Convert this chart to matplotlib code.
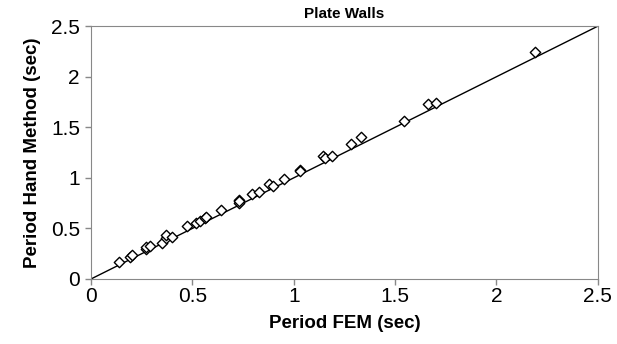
import matplotlib
matplotlib.use("Agg")
import matplotlib.pyplot as plt

plt.rcParams["font.family"] = ["Liberation Sans", "DejaVu Sans"]

# Period FEM vs Period Hand Method (sec)
fem = [0.14, 0.19, 0.20, 0.27, 0.27, 0.29, 0.35, 0.37, 0.37, 0.40,
       0.475, 0.52, 0.54, 0.56, 0.565, 0.64, 0.73, 0.73, 0.73, 0.795,
       0.83, 0.88, 0.90, 0.95, 1.03, 1.03, 1.146, 1.156, 1.19, 1.28,
       1.33, 1.545, 1.66, 1.70, 2.19]
hand = [0.164, 0.22, 0.24, 0.30, 0.32, 0.33, 0.36, 0.41, 0.43, 0.42,
        0.52, 0.55, 0.57, 0.60, 0.61, 0.68, 0.78, 0.75, 0.77, 0.84,
        0.86, 0.94, 0.92, 0.985, 1.08, 1.07, 1.215, 1.196, 1.22, 1.33,
        1.40, 1.564, 1.73, 1.74, 2.24]
ticks = [0, 0.5, 1, 1.5, 2, 2.5]
tick_labels = ["0", "0.5", "1", "1.5", "2", "2.5"]

fig = plt.figure(figsize=(6.17, 3.44), dpi=100)
ax = fig.add_axes([0.1475, 0.189, 0.8215, 0.735])

ax.plot([0, 2.5], [0, 2.5], color="black", lw=1.0, zorder=2)
ax.scatter(fem, hand, marker="D", s=28, facecolors="white",
           edgecolors="black", linewidths=1.0, zorder=3)

ax.set_xlim(0, 2.5)
ax.set_ylim(0, 2.5)
ax.set_xticks(ticks)
ax.set_xticklabels(tick_labels)
ax.set_yticks(ticks)
ax.set_yticklabels(tick_labels)
ax.tick_params(labelsize=15, color="#888888", length=4, width=1, pad=2)
ax.tick_params(axis="y", pad=4)
for s in ax.spines.values():
    s.set_color("#888888")

ax.set_title("Plate Walls", fontsize=11, fontweight="bold", pad=6)
ax.set_xlabel("Period FEM (sec)", fontsize=13.5, fontweight="bold", labelpad=6)
ax.set_ylabel("Period Hand Method (sec)", fontsize=13.5, fontweight="bold", labelpad=7)

fig.savefig("out.png", dpi=100)
